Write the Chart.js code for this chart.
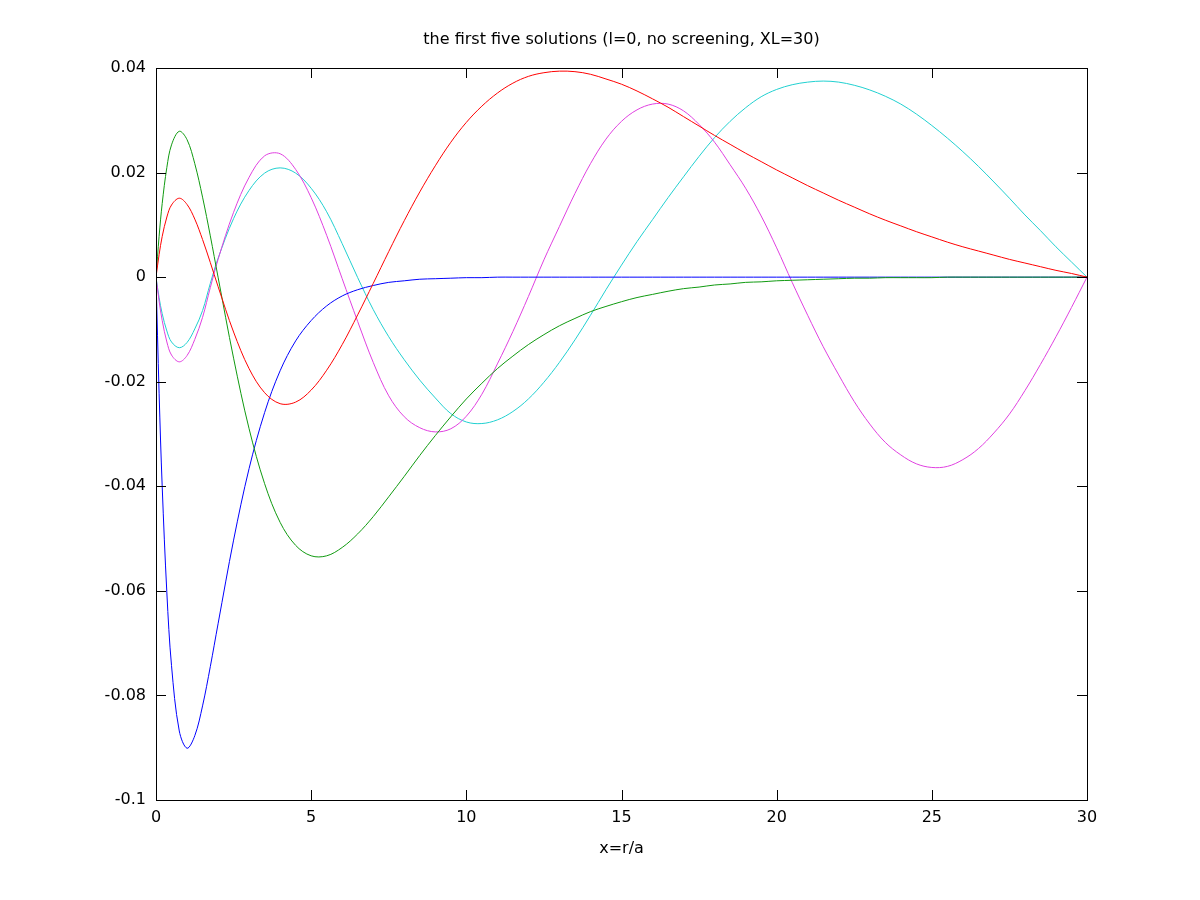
<!DOCTYPE html>
<html>
<head>
<meta charset="utf-8">
<title>first five solutions</title>
<script src="https://cdn.jsdelivr.net/npm/chart.js@4.4.1/dist/chart.umd.min.js"></script>
<style>
    html, body { margin: 0; padding: 0; background: #ffffff; }
</style>
</head>
<body>
<canvas id="solutionsChart" width="1200" height="900"></canvas>
<script>
// Sample positions x = r/a
const xValues = [0, 0.1, 0.2, 0.35, 0.5, 0.75, 1, 1.25, 1.5, 1.75,
    2, 2.5, 3, 3.5, 4, 4.5, 5, 5.5, 6, 6.5,
    7, 7.5, 8, 8.5, 9, 9.5, 10, 10.5, 11, 11.5,
    12, 12.5, 13, 13.5, 14, 14.5, 15, 15.5, 16, 16.5,
    17, 17.5, 18, 18.5, 19, 19.5, 20, 20.5, 21, 21.5,
    22, 22.5, 23, 23.5, 24, 24.5, 25, 25.5, 26, 26.5,
    27, 27.5, 28, 28.5, 29, 29.5, 30];

// One value per x above
const solution1 = [0, -0.0222, -0.0401, -0.0604, -0.0743, -0.0868, -0.0901, -0.0877, -0.0820, -0.0745,
    -0.0663, -0.0503, -0.0366, -0.0259, -0.0179, -0.0122, -0.0083, -0.0055, -0.0036, -0.0024,
    -0.0016, -0.0010, -0.0007, -0.0004, -0.0003, -0.0002, -0.0001, -0.0001, 0, 0,
    0, 0, 0, 0, 0, 0, 0, 0, 0, 0,
    0, 0, 0, 0, 0, 0, 0, 0, 0, 0,
    0, 0, 0, 0, 0, 0, 0, 0, 0, 0,
    0, 0, 0, 0, 0, 0, 0];
const solution2 = [0, 0.0078, 0.0141, 0.0210, 0.0253, 0.0279, 0.0263, 0.0217, 0.0153, 0.0079,
    0, -0.0155, -0.0290, -0.0395, -0.0469, -0.0513, -0.0533, -0.0533, -0.0517, -0.0491,
    -0.0458, -0.0420, -0.0381, -0.0341, -0.0303, -0.0267, -0.0233, -0.0203, -0.0175, -0.0151,
    -0.0129, -0.0110, -0.0093, -0.0079, -0.0066, -0.0056, -0.0047, -0.0039, -0.0033, -0.0027,
    -0.0022, -0.0019, -0.0015, -0.0013, -0.0010, -0.0009, -0.0007, -0.0006, -0.0005, -0.0004,
    -0.0003, -0.0002, -0.0002, -0.0001, -0.0001, -0.0001, -0.0001, 0, 0, 0,
    0, 0, 0, 0, 0, 0, 0];
const solution3 = [0, 0.0043, 0.0078, 0.0115, 0.0138, 0.0151, 0.0139, 0.0111, 0.0072, 0.0028,
    -0.0018, -0.0105, -0.0175, -0.0221, -0.0242, -0.0239, -0.0216, -0.0178, -0.0129, -0.0072,
    -0.0012, 0.0049, 0.0108, 0.0163, 0.0213, 0.0258, 0.0296, 0.0327, 0.0352, 0.0371,
    0.0384, 0.0391, 0.0394, 0.0393, 0.0388, 0.0379, 0.0369, 0.0356, 0.0341, 0.0325,
    0.0307, 0.0289, 0.0271, 0.0254, 0.0237, 0.0221, 0.0205, 0.0190, 0.0175, 0.0161,
    0.0147, 0.0134, 0.0121, 0.0109, 0.0098, 0.0087, 0.0077, 0.0067, 0.0058, 0.0050,
    0.0042, 0.0034, 0.0027, 0.0020, 0.0013, 0.0007, 0];
const solution4 = [0, -0.0039, -0.0070, -0.0103, -0.0124, -0.0135, -0.0125, -0.0099, -0.0064, -0.0012,
    0.0036, 0.0112, 0.0166, 0.0199, 0.0209, 0.0199, 0.0170, 0.0125, 0.0064, -0.0001,
    -0.0062, -0.0114, -0.0158, -0.0197, -0.0231, -0.0261, -0.0277, -0.0280, -0.0273, -0.0257,
    -0.0233, -0.0201, -0.0163, -0.0120, -0.0073, -0.0024, 0.0023, 0.0068, 0.0110, 0.0152,
    0.0192, 0.0231, 0.0267, 0.0298, 0.0324, 0.0345, 0.0359, 0.0368, 0.0373, 0.0375,
    0.0373, 0.0367, 0.0358, 0.0346, 0.0331, 0.0312, 0.0290, 0.0266, 0.0240, 0.0212,
    0.0182, 0.0151, 0.0119, 0.0089, 0.0058, 0.0029, 0];
const solution5 = [0, -0.0046, -0.0083, -0.0124, -0.0149, -0.0162, -0.0150, -0.0119, -0.0077, -0.0020,
    0.0034, 0.0124, 0.0191, 0.0232, 0.0236, 0.0206, 0.0152, 0.0080, -0.0003, -0.0085,
    -0.0163, -0.0227, -0.0267, -0.0288, -0.0296, -0.0290, -0.0266, -0.0224, -0.0166, -0.0104,
    -0.0037, 0.0033, 0.0097, 0.0160, 0.0217, 0.0264, 0.0298, 0.0320, 0.0331, 0.0331,
    0.0318, 0.0292, 0.0258, 0.0215, 0.0170, 0.0117, 0.0056, -0.0010, -0.0073, -0.0133,
    -0.0187, -0.0238, -0.0281, -0.0316, -0.0340, -0.0357, -0.0364, -0.0362, -0.0349, -0.0328,
    -0.0298, -0.0262, -0.0217, -0.0167, -0.0114, -0.0058, 0];

// Axis ticks
const xTicks = [0, 5, 10, 15, 20, 25, 30];
const yTicks = [0.04, 0.02, 0, -0.02, -0.04, -0.06, -0.08, -0.1];

const FONT = 'DejaVu Sans';

function toPoints(ys) {
    return xValues.map((x, i) => ({ x: x, y: ys[i] }));
}

function line(ys, color) {
    return {
        data: toPoints(ys),
        borderColor: color,
        borderWidth: 1,
        pointRadius: 0,
        showLine: true,
        tension: 0.35,
        fill: false
    };
}

// gnuplot style frame with inward ticks on all four sides
const frameTicks = {
    id: 'frameTicks',
    afterDatasetsDraw(chart) {
        const { ctx, chartArea: a, scales } = chart;
        ctx.save();
        ctx.strokeStyle = '#000000';
        ctx.lineWidth = 1;
        ctx.beginPath();
        xTicks.forEach(v => {
            const px = Math.round(scales.x.getPixelForValue(v)) + 0.5;
            ctx.moveTo(px, a.bottom); ctx.lineTo(px, a.bottom - 10);
            ctx.moveTo(px, a.top); ctx.lineTo(px, a.top + 10);
        });
        yTicks.forEach(v => {
            const py = Math.round(scales.y.getPixelForValue(v)) + 0.5;
            ctx.moveTo(a.left, py); ctx.lineTo(a.left + 10, py);
            ctx.moveTo(a.right, py); ctx.lineTo(a.right - 10, py);
        });
        ctx.stroke();
        ctx.strokeRect(Math.round(a.left) + 0.5, Math.round(a.top) + 0.5,
            Math.round(a.right - a.left), Math.round(a.bottom - a.top));
        ctx.restore();
    }
};

const ctx = document.getElementById('solutionsChart').getContext('2d');
const solutionsChart = new Chart(ctx, {
    type: 'scatter',
    data: {
        datasets: [
            line(solution3, '#ff0000'),
            line(solution2, '#109a10'),
            line(solution1, '#0000ff'),
            line(solution5, '#e040e0'),
            line(solution4, '#20d0d0')
        ]
    },
    options: {
        responsive: false,
        devicePixelRatio: 1,
        animation: false,
        layout: { padding: { left: 0, right: 113, top: 0, bottom: 0 } },
        plugins: {
            legend: { display: false },
            tooltip: { enabled: false },
            title: {
                display: true,
                text: 'the first five solutions (l=0, no screening, XL=30)',
                color: '#000000',
                fullSize: false,
                font: { family: FONT, size: 16, weight: 'normal', lineHeight: 1.2 },
                padding: { top: 30, bottom: 18.8 }
            }
        },
        scales: {
            x: {
                type: 'linear',
                min: 0,
                max: 30,
                grid: { display: false, drawTicks: false },
                border: { display: false },
                afterFit: scale => { scale.height = 100; },
                afterBuildTicks: scale => { scale.ticks = xTicks.map(v => ({ value: v })); },
                ticks: {
                    color: '#000000',
                    padding: 8,
                    maxRotation: 0,
                    font: { family: FONT, size: 16 },
                    callback: v => String(v)
                },
                title: {
                    display: true,
                    text: 'x=r/a',
                    color: '#000000',
                    font: { family: FONT, size: 16 },
                    padding: { top: 0, bottom: 42 }
                }
            },
            y: {
                type: 'linear',
                min: -0.1,
                max: 0.04,
                grid: { display: false, drawTicks: false },
                border: { display: false },
                afterFit: scale => { scale.width = 156; },
                afterBuildTicks: scale => { scale.ticks = yTicks.map(v => ({ value: v })); },
                ticks: {
                    color: '#000000',
                    padding: 10,
                    font: { family: FONT, size: 16 },
                    callback: v => String(+v.toFixed(2))
                }
            }
        }
    },
    plugins: [frameTicks]
});
</script>
</body>
</html>
